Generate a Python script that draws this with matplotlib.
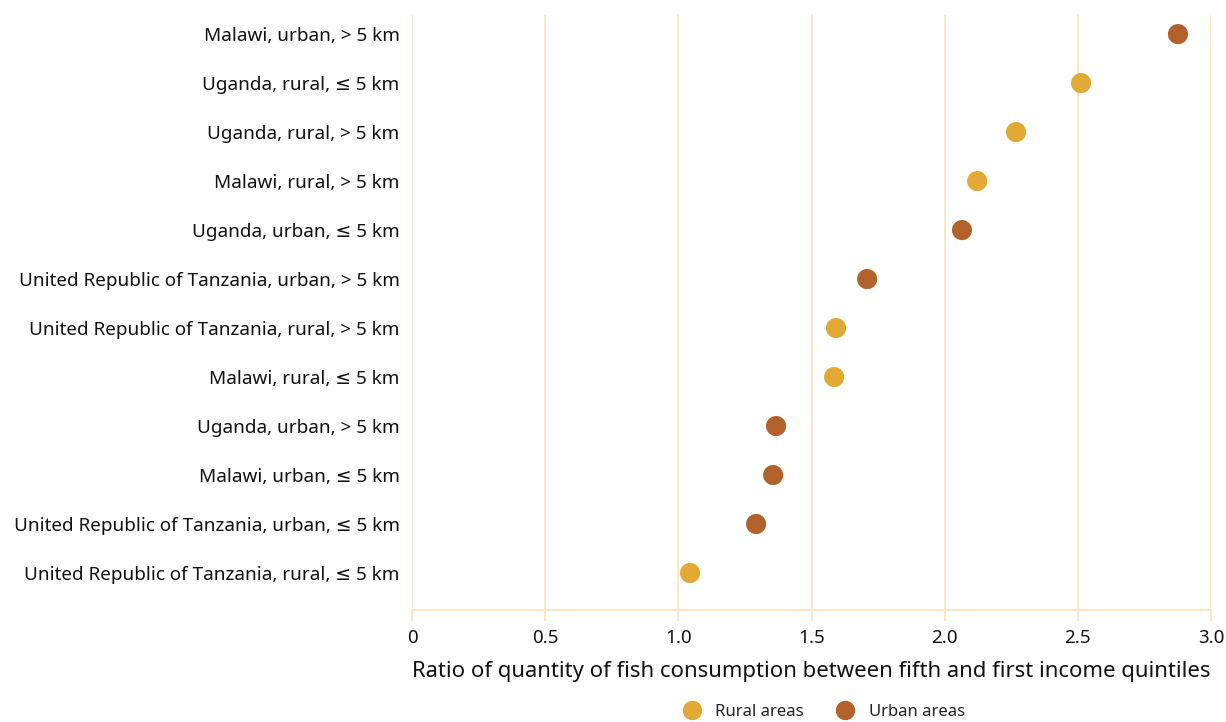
import matplotlib.pyplot as plt
from matplotlib.lines import Line2D

# Data (bottom to top)
labels = [
    "United Republic of Tanzania, rural, ≤ 5 km",
    "United Republic of Tanzania, urban, ≤ 5 km",
    "Malawi, urban, ≤ 5 km",
    "Uganda, urban, > 5 km",
    "Malawi, rural, ≤ 5 km",
    "United Republic of Tanzania, rural, > 5 km",
    "United Republic of Tanzania, urban, > 5 km",
    "Uganda, urban, ≤ 5 km",
    "Malawi, rural, > 5 km",
    "Uganda, rural, > 5 km",
    "Uganda, rural, ≤ 5 km",
    "Malawi, urban, > 5 km",
]
ratios = [1.044, 1.292, 1.356, 1.367, 1.585, 1.592, 1.709, 2.065, 2.122, 2.268, 2.512, 2.876]
area = ["rural", "urban", "urban", "urban", "rural", "rural", "urban", "urban", "rural", "rural", "rural", "urban"]

xticks = [0, 0.5, 1.0, 1.5, 2.0, 2.5, 3.0]
xtick_labels = ["0", "0.5", "1.0", "1.5", "2.0", "2.5", "3.0"]

RURAL = "#E3A935"
URBAN = "#B4622B"
GRID = "#FBE3BD"
TEXT = "#111111"

plt.rcParams["font.family"] = ["Noto Sans", "DejaVu Sans"]

fig = plt.figure(figsize=(12.26, 7.22), dpi=100)
ax = fig.add_axes([412 / 1226, 1 - 610 / 722, (1211 - 412) / 1226, (610 - 15) / 722])

colors = [RURAL if a == "rural" else URBAN for a in area]
ypos = list(range(len(labels)))
ax.scatter(ratios, ypos, s=210, c=colors, zorder=3, linewidths=0)

ax.set_xlim(0, 3.0)
ax.set_ylim(-0.755, len(labels) - 1 + 0.39)
ax.set_xticks(xticks)
ax.set_xticklabels(xtick_labels, fontsize=13.5, color=TEXT)
ax.set_yticks(ypos)
ax.set_yticklabels(labels, fontsize=13.6, color=TEXT)

ax.grid(axis="x", color=GRID, linewidth=1.2, zorder=0)
ax.tick_params(axis="y", length=0, pad=9)
ax.tick_params(axis="x", length=8, color=GRID, width=1.2, pad=6)

for side in ["top", "right", "left"]:
    ax.spines[side].set_visible(False)
ax.spines["bottom"].set_color(GRID)
ax.spines["bottom"].set_linewidth(1.2)

ax.set_xlabel("Ratio of quantity of fish consumption between fifth and first income quintiles",
              fontsize=15.9, color=TEXT, labelpad=10)

handles = [
    Line2D([], [], marker="o", linestyle="", markersize=14, markerfacecolor=RURAL,
           markeredgewidth=0, label="Rural areas"),
    Line2D([], [], marker="o", linestyle="", markersize=14, markerfacecolor=URBAN,
           markeredgewidth=0, label="Urban areas"),
]
fig.legend(handles=handles, loc="center", bbox_to_anchor=(820 / 1226, 1 - 712 / 722),
           ncol=2, frameon=False, fontsize=12, handletextpad=0.4, columnspacing=1.5,
           labelcolor="#222222")

fig.savefig("out.png", dpi=100)
